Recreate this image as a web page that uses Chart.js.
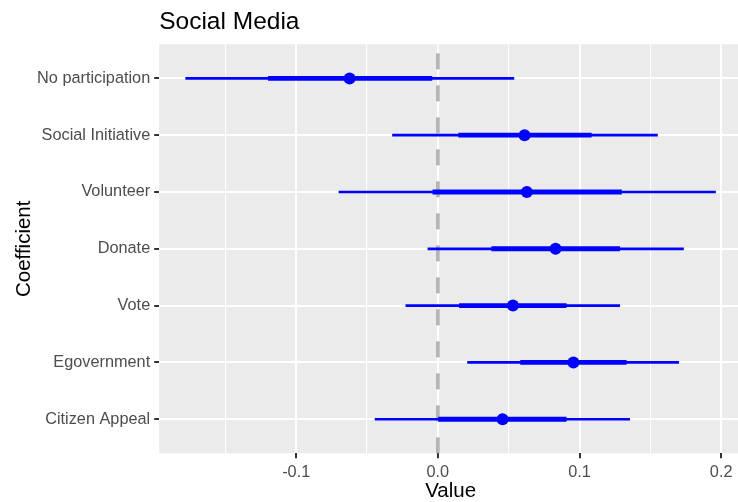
<!DOCTYPE html>
<html>
<head>
<meta charset="utf-8">
<script src="https://cdn.jsdelivr.net/npm/chart.js@4/dist/chart.umd.min.js"></script>
<style>
  html, body { margin: 0; padding: 0; background: #ffffff; overflow: hidden; width: 738px; height: 502px; }
  #wrap { position: absolute; left: 0; top: 0; width: 748px; height: 502px; }
  canvas { display: block; }
</style>
</head>
<body>
<div id="wrap"><canvas id="chart" width="748" height="502"></canvas></div>
<script>
// Coefficient estimates with inner (±1 SE) and outer (±2 SE) intervals, top to bottom
const categories = ['No participation', 'Social Initiative', 'Volunteer', 'Donate', 'Vote', 'Egovernment', 'Citizen Appeal'];
const coefValues = [-0.0623, 0.0612, 0.0628, 0.0831, 0.0530, 0.0957, 0.0457];
const innerLow   = [-0.1197, 0.0147, -0.0035, 0.0380, 0.0152, 0.0584, 0.0005];
const innerHigh  = [-0.0042, 0.1083, 0.1296, 0.1284, 0.0906, 0.1330, 0.0906];
const outerLow   = [-0.1780, -0.0320, -0.0698, -0.0070, -0.0226, 0.0210, -0.0443];
const outerHigh  = [0.0537, 0.1550, 0.1960, 0.1734, 0.1284, 0.1700, 0.1354];
const majorTicks = [-0.1, 0.0, 0.1, 0.2];
const minorTicks = [-0.15, -0.05, 0.05, 0.15];
const refValue = 0;
const chartTitle = 'Social Media';

const FONT = "'Liberation Sans', Arial, Helvetica, sans-serif";
const BLUE = '#0000ff';

// 5% expansion of the data range, like ggplot's continuous scale
const dataMin = Math.min(...outerLow), dataMax = Math.max(...outerHigh);
const pad = 0.05 * (dataMax - dataMin);
const xMin = dataMin - pad, xMax = dataMax + pad;

const rowIndex = categories.map((_, i) => i + 1);
const isMajor = v => majorTicks.some(m => Math.abs(m - v) < 1e-9);

const panelBg = {
  id: 'panelBg',
  beforeDraw(chart) {
    const { ctx, chartArea: a } = chart;
    ctx.save();
    ctx.fillStyle = '#ebebeb';
    ctx.fillRect(a.left, a.top, a.right - a.left, a.bottom - a.top);
    ctx.restore();
  }
};

const refLine = {
  id: 'refLine',
  beforeDatasetsDraw(chart) {
    const { ctx, chartArea: a, scales } = chart;
    const x = scales.x.getPixelForValue(refValue);
    ctx.save();
    ctx.strokeStyle = 'rgba(150,150,150,0.7)';
    ctx.lineWidth = 3.5;
    ctx.setLineDash([16, 16]);
    ctx.beginPath();
    ctx.moveTo(x, a.bottom);
    ctx.lineTo(x, a.top);
    ctx.stroke();
    ctx.restore();
  }
};

const plotTitle = {
  id: 'plotTitle',
  afterDraw(chart) {
    const { ctx, chartArea: a } = chart;
    ctx.save();
    ctx.fillStyle = '#000000';
    ctx.font = '24.5px ' + FONT;
    ctx.textAlign = 'left';
    ctx.textBaseline = 'alphabetic';
    ctx.fillText(chartTitle, a.left, 29.3);
    ctx.restore();
  }
};

new Chart(document.getElementById('chart'), {
  type: 'bar',
  data: {
    datasets: [
      {
        type: 'line',
        label: 'Estimate',
        data: rowIndex.map((y, i) => ({ x: coefValues[i], y })),
        showLine: false,
        pointRadius: 6,
        pointHoverRadius: 6,
        pointBackgroundColor: BLUE,
        pointBorderColor: BLUE,
        pointBorderWidth: 0,
        order: 0
      },
      {
        label: 'Inner',
        data: rowIndex.map((y, i) => ({ x: [innerLow[i], innerHigh[i]], y })),
        backgroundColor: BLUE,
        borderWidth: 0,
        barThickness: 4.2,
        grouped: false,
        order: 1
      },
      {
        label: 'Outer',
        data: rowIndex.map((y, i) => ({ x: [outerLow[i], outerHigh[i]], y })),
        backgroundColor: BLUE,
        borderWidth: 0,
        barThickness: 2,
        grouped: false,
        order: 2
      }
    ]
  },
  options: {
    indexAxis: 'y',
    responsive: false,
    animation: false,
    events: [],
    layout: { padding: { top: 44.3, right: 1.5, left: 0, bottom: 0 } },
    plugins: { legend: { display: false }, tooltip: { enabled: false }, title: { display: false } },
    scales: {
      x: {
        type: 'linear',
        position: 'bottom',
        min: xMin,
        max: xMax,
        offset: false,
        afterBuildTicks(scale) {
          scale.ticks = [...minorTicks, ...majorTicks].sort((a, b) => a - b).map(v => ({ value: v }));
        },
        afterFit(scale) { scale.height = 48.7; },
        border: { display: false },
        grid: {
          offset: false,
          color: '#ffffff',
          lineWidth: ctx => (isMajor(ctx.tick.value) ? 2 : 1.1),
          drawTicks: true,
          tickLength: 5,
          tickWidth: 2,
          tickColor: ctx => (isMajor(ctx.tick.value) ? '#333333' : 'rgba(0,0,0,0)')
        },
        ticks: {
          autoSkip: false,
          maxRotation: 0,
          padding: 4.6,
          color: '#4d4d4d',
          font: { family: FONT, size: 16.3 },
          callback: v => (isMajor(v) ? v.toFixed(1) : '')
        },
        title: {
          display: true,
          text: 'Value',
          color: '#000000',
          font: { family: FONT, size: 20.5, lineHeight: 1 },
          padding: { top: 0, bottom: 0.5 }
        }
      },
      y: {
        type: 'linear',
        position: 'left',
        reverse: true,
        min: 0.4,
        max: categories.length + 0.6,
        offset: false,
        afterBuildTicks(scale) {
          scale.ticks = rowIndex.map(v => ({ value: v }));
        },
        afterFit(scale) { scale.width = 159.2; },
        border: { display: false },
        grid: {
          offset: false,
          color: '#ffffff',
          lineWidth: 2,
          drawTicks: true,
          tickLength: 5,
          tickWidth: 2,
          tickColor: '#333333'
        },
        ticks: {
          autoSkip: false,
          padding: 4,
          color: '#4d4d4d',
          font: { family: FONT, size: 16.3 },
          callback: v => categories[Math.round(v) - 1] || ''
        },
        title: {
          display: true,
          text: 'Coefficient',
          color: '#000000',
          font: { family: FONT, size: 20.5, lineHeight: 1 },
          padding: { top: 14.3, bottom: 0 }
        }
      }
    }
  },
  plugins: [panelBg, refLine, plotTitle]
});
</script>
</body>
</html>
